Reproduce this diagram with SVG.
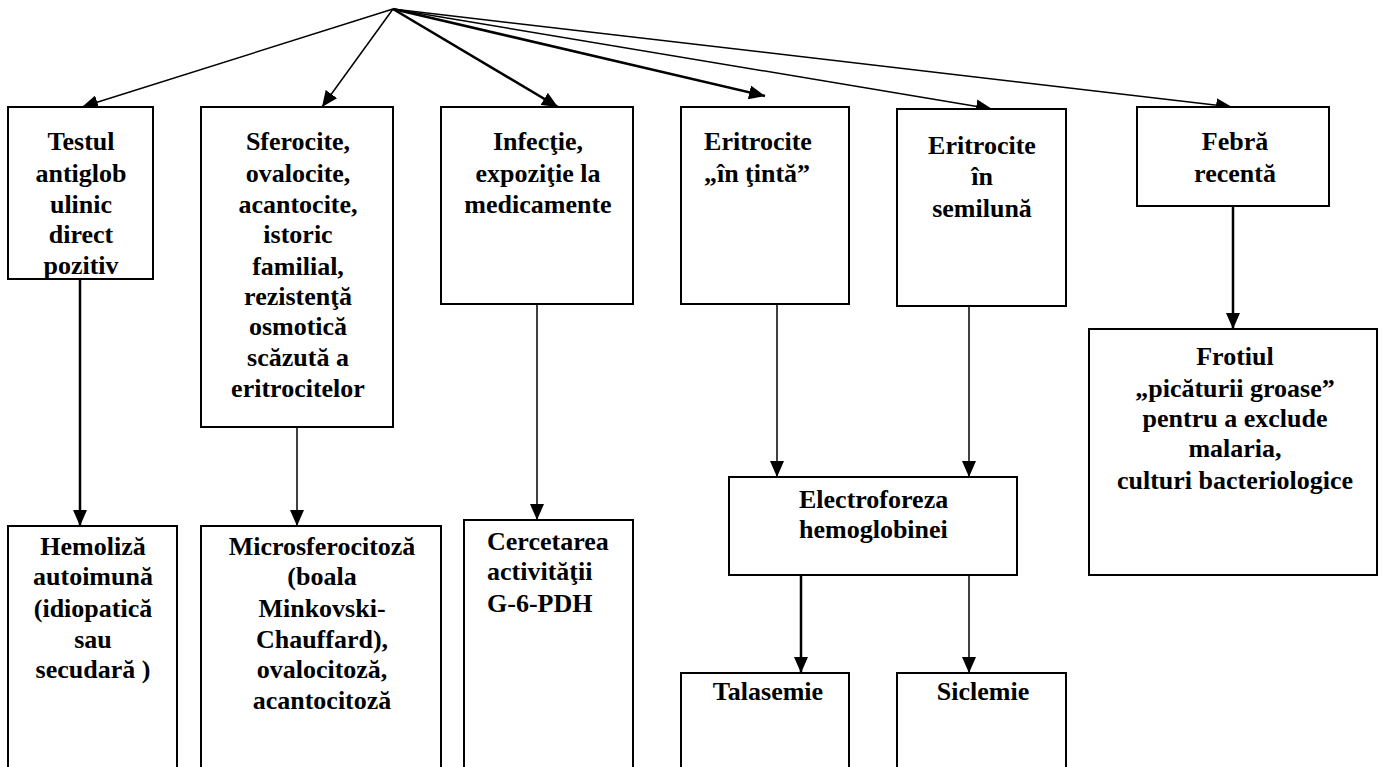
<svg xmlns="http://www.w3.org/2000/svg" width="1383" height="767" viewBox="0 0 1383 767">
<defs>
<marker id="ah" markerUnits="userSpaceOnUse" markerWidth="16" markerHeight="14" viewBox="0 0 16 14" refX="16" refY="7" orient="auto">
<path d="M0,0 L16,7 L0,14 z" fill="#000"/>
</marker>
</defs>
<rect width="1383" height="767" fill="#fff"/>
<g id="connectors" stroke="#000" fill="none">
<line stroke-width="1.5" x1="393" y1="9" x2="82" y2="107" marker-end="url(#ah)"/>
<line stroke-width="1.5" x1="393" y1="9" x2="322" y2="107" marker-end="url(#ah)"/>
<line stroke-width="2.5" x1="393" y1="9" x2="558" y2="107" marker-end="url(#ah)"/>
<line stroke-width="2.5" x1="393" y1="9" x2="765" y2="96" marker-end="url(#ah)"/>
<line stroke-width="1.5" x1="393" y1="9" x2="992" y2="109" marker-end="url(#ah)"/>
<line stroke-width="1.5" x1="393" y1="9" x2="1232" y2="107" marker-end="url(#ah)"/>
<line stroke-width="2.5" x1="80" y1="279" x2="80" y2="526" marker-end="url(#ah)"/>
<line stroke-width="1.5" x1="297" y1="427" x2="297" y2="526" marker-end="url(#ah)"/>
<line stroke-width="1.5" x1="537" y1="304" x2="537" y2="520" marker-end="url(#ah)"/>
<line stroke-width="1.5" x1="777" y1="304" x2="777" y2="477" marker-end="url(#ah)"/>
<line stroke-width="1.5" x1="969" y1="306" x2="969" y2="477" marker-end="url(#ah)"/>
<line stroke-width="2.5" x1="1233" y1="206" x2="1233" y2="329" marker-end="url(#ah)"/>
<line stroke-width="2.5" x1="801" y1="575" x2="801" y2="673" marker-end="url(#ah)"/>
<line stroke-width="1.5" x1="969" y1="575" x2="969" y2="673" marker-end="url(#ah)"/>
</g>
<g font-weight="bold" font-size="26" fill="#000" text-anchor="middle">
<g id="n-testul">
<rect fill="#fff" stroke="#000" stroke-width="2" x="8" y="107" width="145" height="172"/>
<text style="font-family:'Liberation Serif',serif" x="81" y="150">Testul</text>
<text style="font-family:'Liberation Serif',serif" x="81" y="182">antiglob</text>
<text style="font-family:'Liberation Serif',serif" x="81" y="213">ulinic</text>
<text style="font-family:'Liberation Serif',serif" x="81" y="243">direct</text>
<text style="font-family:'Liberation Serif',serif" x="81" y="274">pozitiv</text>
</g>
<g id="n-sferocite">
<rect fill="#fff" stroke="#000" stroke-width="2" x="201" y="107" width="192" height="320"/>
<text style="font-family:'Liberation Serif',serif" x="298" y="150">Sferocite,</text>
<text style="font-family:'Liberation Serif',serif" x="298" y="182">ovalocite,</text>
<text style="font-family:'Liberation Serif',serif" x="298" y="213">acantocite,</text>
<text style="font-family:'Liberation Serif',serif" x="298" y="243">istoric</text>
<text style="font-family:'Liberation Serif',serif" x="298" y="275">familial,</text>
<text style="font-family:'Liberation Serif',serif" x="298" y="305">rezistenţă</text>
<text style="font-family:'Liberation Serif',serif" x="298" y="335">osmotică</text>
<text style="font-family:'Liberation Serif',serif" x="298" y="366">scăzută a</text>
<text style="font-family:'Liberation Serif',serif" x="298" y="397">eritrocitelor</text>
</g>
<g id="n-infectie">
<rect fill="#fff" stroke="#000" stroke-width="2" x="441" y="107" width="192" height="197"/>
<text style="font-family:'Liberation Serif',serif" x="538" y="150">Infecţie,</text>
<text style="font-family:'Liberation Serif',serif" x="538" y="182">expoziţie la</text>
<text style="font-family:'Liberation Serif',serif" x="538" y="213">medicamente</text>
</g>
<g id="n-tinta">
<rect fill="#fff" stroke="#000" stroke-width="2" x="681" y="107" width="168" height="197"/>
<text style="font-family:'Liberation Serif',serif" x="758" y="150">Eritrocite</text>
<text style="font-family:'Liberation Serif',serif" x="757" y="182">„în ţintă”</text>
</g>
<g id="n-semiluna">
<rect fill="#fff" stroke="#000" stroke-width="2" x="897" y="109" width="169" height="197"/>
<text style="font-family:'Liberation Serif',serif" x="982" y="154">Eritrocite</text>
<text style="font-family:'Liberation Serif',serif" x="982" y="185">în</text>
<text style="font-family:'Liberation Serif',serif" x="982" y="217">semilună</text>
</g>
<g id="n-febra">
<rect fill="#fff" stroke="#000" stroke-width="2" x="1137" y="107" width="192" height="99"/>
<text style="font-family:'Liberation Serif',serif" x="1235" y="150">Febră</text>
<text style="font-family:'Liberation Serif',serif" x="1235" y="182">recentă</text>
</g>
<g id="n-frotiul">
<rect fill="#fff" stroke="#000" stroke-width="2" x="1089" y="329" width="288" height="246"/>
<text style="font-family:'Liberation Serif',serif" x="1235" y="365">Frotiul</text>
<text style="font-family:'Liberation Serif',serif" x="1235" y="397">„picăturii groase”</text>
<text style="font-family:'Liberation Serif',serif" x="1235" y="427">pentru a exclude</text>
<text style="font-family:'Liberation Serif',serif" x="1235" y="457">malaria,</text>
<text style="font-family:'Liberation Serif',serif" x="1235" y="489">culturi bacteriologice</text>
</g>
<g id="n-electroforeza">
<rect fill="#fff" stroke="#000" stroke-width="2" x="729" y="477" width="288" height="98"/>
<text style="font-family:'Liberation Serif',serif" text-anchor="start" x="799" y="508">Electroforeza</text>
<text style="font-family:'Liberation Serif',serif" text-anchor="start" x="799" y="538">hemoglobinei</text>
</g>
<g id="n-hemoliza">
<rect fill="#fff" stroke="#000" stroke-width="2" x="8" y="526" width="169" height="260"/>
<text style="font-family:'Liberation Serif',serif" x="93" y="555">Hemoliză</text>
<text style="font-family:'Liberation Serif',serif" x="93" y="585">autoimună</text>
<text style="font-family:'Liberation Serif',serif" x="93" y="617">(idiopatică</text>
<text style="font-family:'Liberation Serif',serif" x="93" y="648">sau</text>
<text style="font-family:'Liberation Serif',serif" x="93" y="678">secudară )</text>
</g>
<g id="n-microsferocitoza">
<rect fill="#fff" stroke="#000" stroke-width="2" x="201" y="526" width="240" height="260"/>
<text style="font-family:'Liberation Serif',serif" x="322" y="555">Microsferocitoză</text>
<text style="font-family:'Liberation Serif',serif" x="322" y="585">(boala</text>
<text style="font-family:'Liberation Serif',serif" x="322" y="617">Minkovski-</text>
<text style="font-family:'Liberation Serif',serif" x="322" y="648">Chauffard),</text>
<text style="font-family:'Liberation Serif',serif" x="322" y="678">ovalocitoză,</text>
<text style="font-family:'Liberation Serif',serif" x="322" y="709">acantocitoză</text>
</g>
<g id="n-cercetarea">
<rect fill="#fff" stroke="#000" stroke-width="2" x="464" y="520" width="169" height="260"/>
<text style="font-family:'Liberation Serif',serif" text-anchor="start" x="487" y="550">Cercetarea</text>
<text style="font-family:'Liberation Serif',serif" text-anchor="start" x="487" y="580">activităţii</text>
<text style="font-family:'Liberation Serif',serif" text-anchor="start" x="487" y="612">G-6-PDH</text>
</g>
<g id="n-talasemie">
<rect fill="#fff" stroke="#000" stroke-width="2" x="681" y="673" width="168" height="110"/>
<text style="font-family:'Liberation Serif',serif" x="768" y="700">Talasemie</text>
</g>
<g id="n-siclemie">
<rect fill="#fff" stroke="#000" stroke-width="2" x="897" y="673" width="169" height="110"/>
<text style="font-family:'Liberation Serif',serif" x="983" y="700">Siclemie</text>
</g>
</g>
</svg>
